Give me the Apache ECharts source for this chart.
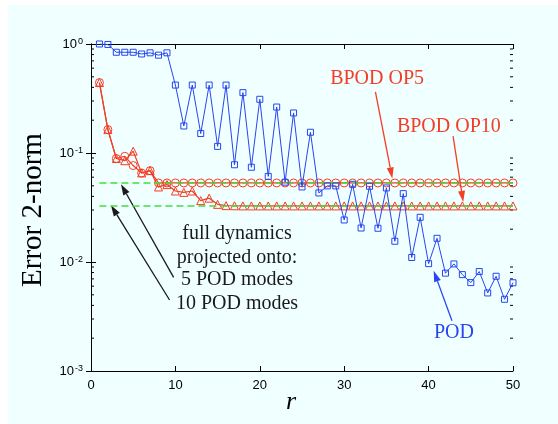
<!DOCTYPE html>
<html>
<head>
<meta charset="utf-8">
<script src="https://cdn.jsdelivr.net/npm/echarts@6/dist/echarts.min.js"></script>
<style>
  html, body { margin: 0; padding: 0; background: #fff; }
  #bg { position: absolute; left: 8px; top: 5px; width: 550px; height: 419px; background: #f0ffff; }
  #chart { position: absolute; left: 0; top: 0; width: 558px; height: 424px; }
</style>
</head>
<body>
<div id="bg"></div>
<div id="chart"></div>
<script>
// r = number of modes
const rVals = Array.from({ length: 50 }, (_, i) => i + 1);

const podErr = [1.0, 0.99, 0.84, 0.84, 0.84, 0.81, 0.83, 0.79, 0.83, 0.42,
  0.177, 0.42, 0.151, 0.42, 0.115, 0.42, 0.078, 0.358, 0.074, 0.311,
  0.061, 0.264, 0.054, 0.233, 0.0488, 0.155, 0.043, 0.0499, 0.0499, 0.0243,
  0.0516, 0.0205, 0.0495, 0.0204, 0.0478, 0.0155, 0.0424, 0.011, 0.0257, 0.00966,
  0.0165, 0.0079, 0.0096, 0.00766, 0.00647, 0.00817, 0.0052, 0.0074, 0.00455, 0.00645];

const bpodOp5 = [0.443, 0.164, 0.089, 0.0933, 0.0767, 0.0656, 0.0689, 0.0531, 0.0531, 0.0531,
  0.0531, 0.0531, 0.0531, 0.0531, 0.0531, 0.0531, 0.0531, 0.0531, 0.0531, 0.0531,
  0.0531, 0.0531, 0.0531, 0.0531, 0.0531, 0.0531, 0.0531, 0.0531, 0.0531, 0.0531,
  0.0531, 0.0531, 0.0531, 0.0531, 0.0531, 0.0531, 0.0531, 0.0531, 0.0531, 0.0531,
  0.0531, 0.0531, 0.0531, 0.0531, 0.0531, 0.0531, 0.0531, 0.0531, 0.0531, 0.0531];

const bpodOp10 = [0.443, 0.164, 0.089, 0.085, 0.104, 0.0656, 0.0689, 0.0488, 0.0513, 0.0448,
  0.0435, 0.0448, 0.0366, 0.0385, 0.0338, 0.0329, 0.0328, 0.0327, 0.0327, 0.0327,
  0.0327, 0.0327, 0.0327, 0.0327, 0.0327, 0.0327, 0.0327, 0.0327, 0.0327, 0.0327,
  0.0327, 0.0327, 0.0327, 0.0327, 0.0327, 0.0327, 0.0327, 0.0327, 0.0327, 0.0327,
  0.0327, 0.0327, 0.0327, 0.0327, 0.0327, 0.0327, 0.0327, 0.0327, 0.0327, 0.0327];

// full dynamics projected onto 5 / 10 POD modes
const proj5 = 0.0531;
const proj10 = 0.0327;
const projRange = [1, 50];

const xTicks = [0, 10, 20, 30, 40, 50];
const yRange = [0.001, 1];

const RED = '#f53c24';
const BLUE = '#2845f0';
const GREEN = '#44dd3a';

// minor ticks 2..9 x 10^k for the log axis
const minorVals = [];
for (let k = -3; k < 0; k++) {
  for (let m = 2; m <= 9; m++) minorVals.push(m * Math.pow(10, k));
}

const chart = echarts.init(document.getElementById('chart'));

const tickStyle = { inside: true, length: 5, lineStyle: { color: '#000', width: 1 } };
const lineAxis = { show: true, lineStyle: { color: '#000', width: 1 } };

function openSymbol(color) {
  return { color: 'rgba(0,0,0,0)', borderColor: color, borderWidth: 1 };
}

const option = {
  animation: false,
  backgroundColor: 'transparent',
  grid: { left: 91, right: 45, top: 44, bottom: 53 },
  xAxis: [
    {
      type: 'value', min: xTicks[0], max: xTicks[xTicks.length - 1], interval: 10,
      axisLine: lineAxis, axisTick: tickStyle, splitLine: { show: false },
      axisLabel: { color: '#000', fontSize: 13, fontFamily: 'Liberation Sans', margin: 8 }
    },
    {
      type: 'value', position: 'top', min: xTicks[0], max: xTicks[xTicks.length - 1], interval: 10,
      axisLine: lineAxis, axisTick: tickStyle, splitLine: { show: false }, axisLabel: { show: false }
    }
  ],
  yAxis: [
    {
      type: 'log', logBase: 10, min: yRange[0], max: yRange[1],
      axisLine: lineAxis, axisTick: tickStyle, splitLine: { show: false },
      axisLabel: {
        margin: 8,
        formatter: v => '{b|10}{s|' + Math.round(Math.log10(v)) + '}',
        rich: {
          b: { fontSize: 13, fontFamily: 'Liberation Sans', color: '#000', verticalAlign: 'bottom', lineHeight: 14 },
          s: { fontSize: 9, fontFamily: 'Liberation Sans', color: '#000', verticalAlign: 'top', lineHeight: 10, padding: [0, 0, 7, 1] }
        }
      }
    },
    {
      type: 'log', logBase: 10, min: yRange[0], max: yRange[1], position: 'right',
      axisLine: lineAxis, axisTick: tickStyle, splitLine: { show: false }, axisLabel: { show: false }
    }
  ],
  series: [
    {
      type: 'custom', silent: true, clip: false, z: 1,
      data: minorVals.map(v => [0, v]),
      encode: { x: 0, y: 1 },
      renderItem: (params, api) => {
        const v = api.value(1);
        const a = api.coord([xTicks[0], v]);
        const b = api.coord([xTicks[xTicks.length - 1], v]);
        const st = { stroke: '#000', lineWidth: 1 };
        return {
          type: 'group',
          children: [
            { type: 'line', shape: { x1: a[0], y1: a[1], x2: a[0] + 3, y2: a[1] }, style: st },
            { type: 'line', shape: { x1: b[0], y1: b[1], x2: b[0] - 3, y2: b[1] }, style: st }
          ]
        };
      }
    },
    {
      name: 'BPOD OP10', type: 'line', z: 2,
      data: rVals.map((r, i) => [r, bpodOp10[i]]),
      symbol: 'triangle', symbolSize: 8,
      lineStyle: { color: RED, width: 1.2 }, itemStyle: openSymbol(RED)
    },
    {
      name: 'BPOD OP5', type: 'line', z: 2,
      data: rVals.map((r, i) => [r, bpodOp5[i]]),
      symbol: 'circle', symbolSize: 8,
      lineStyle: { color: RED, width: 1.2 }, itemStyle: openSymbol(RED)
    },
    {
      name: 'proj5', type: 'line', z: 3, symbol: 'none',
      data: projRange.map(r => [r, proj5]),
      lineStyle: { color: GREEN, width: 1.5, type: [7, 4] }
    },
    {
      name: 'proj10', type: 'line', z: 3, symbol: 'none',
      data: projRange.map(r => [r, proj10]),
      lineStyle: { color: GREEN, width: 1.5, type: [7, 4] }
    },
    {
      name: 'POD', type: 'line', z: 4,
      data: rVals.map((r, i) => [r, podErr[i]]),
      symbol: 'rect', symbolSize: 6,
      lineStyle: { color: BLUE, width: 1 }, itemStyle: openSymbol(BLUE)
    }
  ]
};

chart.setOption(option);

// annotations, placed in data coordinates
function px(p) { return chart.convertToPixel({ gridIndex: 0 }, p); }

function arrow(from, to, color) {
  const a = px(from), b = px(to);
  const dx = b[0] - a[0], dy = b[1] - a[1];
  const len = Math.sqrt(dx * dx + dy * dy);
  const ux = dx / len, uy = dy / len;
  const head = 11, w = 3.5;
  const bx = b[0] - ux * head, by = b[1] - uy * head;
  return [
    { type: 'line', shape: { x1: a[0], y1: a[1], x2: bx, y2: by }, style: { stroke: color, lineWidth: 1.3 } },
    { type: 'polygon', shape: { points: [[b[0], b[1]], [bx - uy * w, by + ux * w], [bx + uy * w, by - ux * w]] }, style: { fill: color } }
  ];
}

function label(text, at, color, size) {
  const p = px(at);
  return {
    type: 'text', x: p[0], y: p[1],
    style: { text: text, fill: color, font: size + 'px "Liberation Serif"', align: 'center', verticalAlign: 'middle' }
  };
}

const DARK = '#1a1a1a';
const graphics = [
  label('BPOD OP5', [33.9, 0.485], RED, 20),
  label('BPOD OP10', [42.4, 0.173], RED, 20),
  label('full dynamics', [17.3, 0.0183], DARK, 20),
  label('projected onto:', [17.3, 0.011], DARK, 20),
  label('5 POD modes', [17.3, 0.00682], DARK, 20),
  label('10 POD modes', [17.3, 0.00418], DARK, 20),
  label('POD', [43.0, 0.00223], BLUE, 20),
  ...arrow([33.7, 0.363], [35.7, 0.0584], RED),
  ...arrow([42.9, 0.1426], [44.1, 0.0356], RED),
  ...arrow([9.79, 0.00722], [3.55, 0.0518], DARK),
  ...arrow([9.31, 0.00448], [2.37, 0.0332], DARK),
  ...arrow([42.77, 0.00289], [40.6, 0.0083], BLUE),
  {
    type: 'text', x: 33, y: 210, rotation: Math.PI / 2,
    style: { text: 'Error 2-norm', fill: '#000', font: '29px "Liberation Serif"', align: 'center', verticalAlign: 'middle' }
  },
  {
    type: 'text', x: 291, y: 402,
    style: { text: 'r', fill: '#000', font: 'italic 26px "Liberation Serif"', align: 'center', verticalAlign: 'middle' }
  }
];

chart.setOption({ graphic: graphics });
</script>
</body>
</html>
